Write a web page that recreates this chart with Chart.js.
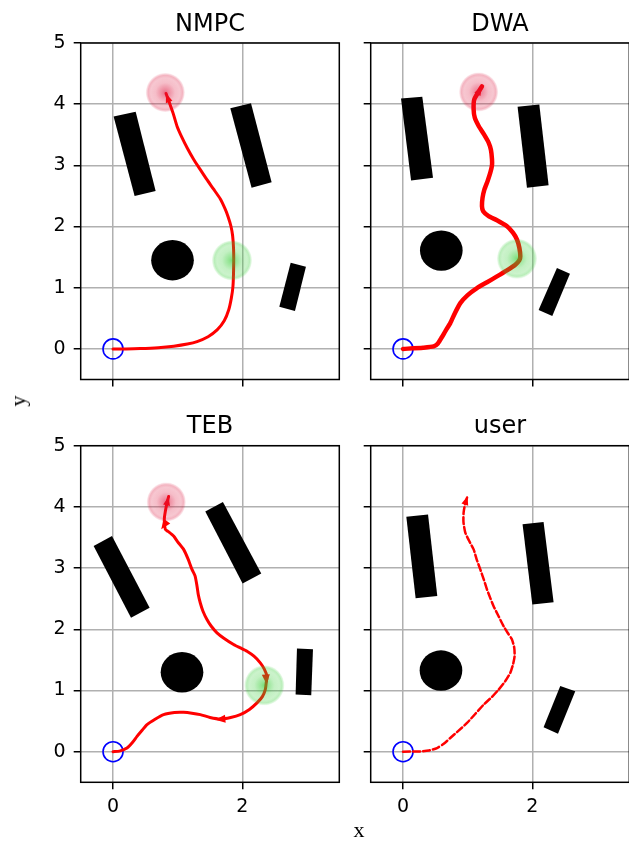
<!DOCTYPE html>
<html>
<head>
<meta charset="utf-8">
<script src="https://cdn.jsdelivr.net/npm/chart.js@4.4.1/dist/chart.umd.min.js"></script>
<style>
  html, body { margin: 0; padding: 0; background: #fff; width: 629px; height: 841px; overflow: hidden; }
  canvas { position: absolute; left: 0; top: 0; }
  .axlbl { position: absolute; font-family: 'Liberation Serif', 'DejaVu Serif', serif; font-size: 22px; line-height: 1; color: #000; }
</style>
</head>
<body>
<canvas id="pNMPC" width="660" height="841"></canvas>
<canvas id="pDWA" width="660" height="841"></canvas>
<canvas id="pTEB" width="660" height="841"></canvas>
<canvas id="pUser" width="660" height="841"></canvas>
<div class="axlbl" id="xlab" style="left:359px;top:829.5px;transform:translate(-50%,-50%);">x</div>
<div class="axlbl" id="ylab" style="left:18px;top:401px;transform:translate(-50%,-50%) rotate(-90deg);">y</div>
<script>
// ---- axes ----
const xRange = [-0.5, 3.5];
const yRange = [-0.5, 5];
const xTicks = [0, 2];
const yTicks = [0, 1, 2, 3, 4, 5];
const titles = ['NMPC', 'DWA', 'TEB', 'user'];

// ---- start pose ----
const startPoint = [0, 0];

// ---- NMPC run ----
const nmpcPathX = [0, 0.2, 0.42, 0.7, 0.94, 1.15, 1.30, 1.47, 1.61, 1.72, 1.79, 1.83, 1.855, 1.865, 1.865, 1.85, 1.824, 1.78, 1.737, 1.66, 1.556, 1.45, 1.35, 1.246, 1.15, 1.06, 0.99, 0.93, 0.87, 0.82];
const nmpcPathY = [0, 0.0, 0.005, 0.02, 0.045, 0.08, 0.12, 0.2, 0.31, 0.46, 0.64, 0.83, 1.02, 1.3, 1.62, 1.85, 2.005, 2.16, 2.28, 2.45, 2.61, 2.77, 2.93, 3.10, 3.28, 3.47, 3.64, 3.85, 4.03, 4.175];
const nmpcGoal = [0.809, 4.19];
const nmpcWaypoint = [1.84, 1.447];
const nmpcDisc = [0.92, 1.45];
const nmpcBlockA = [[0.009, 3.80], [0.350, 3.875], [0.659, 2.58], [0.334, 2.50]];
const nmpcBlockB = [[1.814, 3.934], [2.134, 4.016], [2.453, 2.726], [2.143, 2.636]];
const nmpcBlockC = [[2.748, 1.410], [2.984, 1.344], [2.814, 0.618], [2.572, 0.689]];

// ---- DWA run ----
const dwaPathX = [0, 0.31, 0.474, 0.54, 0.6, 0.66, 0.731, 0.80, 0.886, 1.0, 1.144, 1.30, 1.453, 1.60, 1.737, 1.80, 1.814, 1.80, 1.763, 1.70, 1.608, 1.453, 1.324, 1.24, 1.221, 1.23, 1.257, 1.31, 1.35, 1.376, 1.376, 1.36, 1.324, 1.25, 1.17, 1.11, 1.092, 1.103, 1.221];
const dwaPathY = [0, 0.02, 0.04, 0.09, 0.19, 0.30, 0.421, 0.58, 0.749, 0.88, 0.995, 1.09, 1.185, 1.28, 1.377, 1.45, 1.513, 1.65, 1.787, 1.90, 2.005, 2.104, 2.169, 2.25, 2.333, 2.47, 2.6, 2.75, 2.88, 3.0, 3.10, 3.25, 3.372, 3.51, 3.644, 3.78, 3.918, 4.08, 4.29];
const dwaGoal = [1.169, 4.20];
const dwaWaypoint = [1.763, 1.475];
const dwaDisc = [0.592, 1.607];
const dwaBlockA = [[-0.031, 4.093], [0.298, 4.120], [0.464, 2.798], [0.124, 2.754]];
const dwaBlockB = [[1.772, 3.956], [2.108, 3.995], [2.252, 2.677], [1.917, 2.634]];
const dwaBlockC = [[2.381, 1.323], [2.582, 1.23], [2.309, 0.536], [2.097, 0.634]];

// ---- TEB run ----
const tebPathX = [0, 0.1, 0.216, 0.30, 0.371, 0.45, 0.526, 0.65, 0.782, 0.95, 1.092, 1.22, 1.35, 1.5, 1.659, 1.82, 1.968, 2.11, 2.227, 2.31, 2.355, 2.37, 2.381, 2.34, 2.278, 2.18, 2.072, 1.96, 1.865, 1.72, 1.608, 1.52, 1.453, 1.39, 1.35, 1.32, 1.30, 1.27, 1.221, 1.16, 1.092, 1.00, 0.937, 0.85, 0.809, 0.793, 0.82, 0.86];
const tebPathY = [0, 0.01, 0.06, 0.15, 0.25, 0.35, 0.442, 0.53, 0.606, 0.64, 0.643, 0.63, 0.606, 0.56, 0.535, 0.56, 0.606, 0.69, 0.797, 0.9, 1.015, 1.13, 1.232, 1.35, 1.452, 1.56, 1.642, 1.70, 1.751, 1.85, 1.943, 2.05, 2.16, 2.30, 2.43, 2.56, 2.70, 2.87, 2.979, 3.15, 3.306, 3.43, 3.524, 3.60, 3.633, 3.797, 3.99, 4.17];
// headings (deg, screen-up positive) of the reversing poses along the TEB run
const tebReverseX = [1.66, 2.37, 0.79];
const tebReverseY = [0.53, 1.18, 3.70];
const tebReverseHeading = [185, -85, -125];
const tebGoal = [0.824, 4.08];
const tebWaypoint = [2.34, 1.085];
const tebDisc = [1.067, 1.298];
const tebBlockA = [[-0.30, 3.36], [-0.016, 3.524], [0.566, 2.352], [0.278, 2.188]];
const tebBlockB = [[1.427, 3.923], [1.70, 4.08], [2.293, 2.913], [2.004, 2.75]];
const tebBlockC = [[2.845, 1.686], [3.093, 1.674], [3.066, 0.921], [2.824, 0.933]];

// ---- user run ----
const userPathX = [0, 0.268, 0.4, 0.526, 0.63, 0.731, 0.86, 0.99, 1.12, 1.247, 1.37, 1.479, 1.58, 1.659, 1.70, 1.726, 1.72, 1.685, 1.62, 1.556, 1.48, 1.401, 1.35, 1.299, 1.25, 1.195, 1.14, 1.092, 1.02, 0.963, 0.935, 0.937, 0.96, 0.999];
const userPathY = [0, 0.005, 0.02, 0.06, 0.13, 0.224, 0.345, 0.47, 0.62, 0.769, 0.89, 1.015, 1.15, 1.288, 1.42, 1.56, 1.70, 1.833, 1.94, 2.05, 2.21, 2.378, 2.51, 2.651, 2.81, 2.979, 3.14, 3.306, 3.45, 3.58, 3.75, 3.907, 4.05, 4.178];
const userDisc = [0.587, 1.326];
const userBlockA = [[0.051, 3.841], [0.387, 3.874], [0.530, 2.543], [0.195, 2.509]];
const userBlockB = [[1.849, 3.715], [2.174, 3.753], [2.329, 2.444], [2.0, 2.406]];
const userBlockC = [[2.432, 1.075], [2.664, 0.987], [2.397, 0.295], [2.174, 0.398]];

const discRadius = 0.33;

// ---- layout of the 2x2 grid (page pixels) ----
const CW = 660, CH = 841, AXW = 40, AXH = 40;
const panels = [
  { id: 'pNMPC', title: titles[0], L: 80.7, R: 339.3, T: 43, B: 379.5, showX: false, showY: true,
    px: nmpcPathX, py: nmpcPathY, lw: 3, dash: [], goal: nmpcGoal, way: nmpcWaypoint, disc: nmpcDisc,
    blocks: [nmpcBlockA, nmpcBlockB, nmpcBlockC], rev: null },
  { id: 'pDWA', title: titles[1], L: 370.7, R: 629.3, T: 43, B: 379.5, showX: false, showY: false,
    px: dwaPathX, py: dwaPathY, lw: 4.5, dash: [], goal: dwaGoal, way: dwaWaypoint, disc: dwaDisc,
    blocks: [dwaBlockA, dwaBlockB, dwaBlockC], rev: null },
  { id: 'pTEB', title: titles[2], L: 80.7, R: 339.3, T: 445.7, B: 782.3, showX: true, showY: true,
    px: tebPathX, py: tebPathY, lw: 3, dash: [], goal: tebGoal, way: tebWaypoint, disc: tebDisc,
    blocks: [tebBlockA, tebBlockB, tebBlockC],
    rev: { x: tebReverseX, y: tebReverseY, h: tebReverseHeading } },
  { id: 'pUser', title: titles[3], L: 370.7, R: 629.3, T: 445.7, B: 782.3, showX: true, showY: false,
    px: userPathX, py: userPathY, lw: 2.5, dash: [7, 3], goal: null, way: null, disc: userDisc,
    blocks: [userBlockA, userBlockB, userBlockC], rev: null }
];

const sceneOf = {};

function glow(ctx, cx, cy, r, rgb, k) {
  const g = ctx.createRadialGradient(cx, cy, 0, cx, cy, r);
  const c = a => 'rgba(' + rgb + ',' + Math.min(1, a * k).toFixed(3) + ')';
  g.addColorStop(0, c(0.62));
  g.addColorStop(0.15, c(0.5));
  g.addColorStop(0.5, c(0.28));
  g.addColorStop(0.75, c(0.24));
  g.addColorStop(0.88, c(0.32));
  g.addColorStop(1, c(0.06));
  ctx.fillStyle = g;
  ctx.beginPath();
  ctx.arc(cx, cy, r, 0, Math.PI * 2);
  ctx.fill();
}

function arrowHead(ctx, x, y, ang, hl, hw) {
  ctx.beginPath();
  ctx.moveTo(x, y);
  ctx.lineTo(x - hl * Math.cos(ang) + hw * Math.sin(ang), y - hl * Math.sin(ang) - hw * Math.cos(ang));
  ctx.lineTo(x - hl * Math.cos(ang) - hw * Math.sin(ang), y - hl * Math.sin(ang) + hw * Math.cos(ang));
  ctx.closePath();
  ctx.fill();
}

const scenePlugin = {
  id: 'scene',
  beforeDatasetsDraw(chart) {
    const s = sceneOf[chart.canvas.id];
    const { ctx, chartArea: a } = chart;
    const xs = chart.scales.x, ys = chart.scales.y;
    ctx.save();
    ctx.beginPath(); ctx.rect(a.left, a.top, a.right - a.left, a.bottom - a.top); ctx.clip();
    ctx.fillStyle = '#000';
    s.blocks.forEach(poly => {
      ctx.beginPath();
      poly.forEach((p, i) => {
        const X = xs.getPixelForValue(p[0]), Y = ys.getPixelForValue(p[1]);
        if (i === 0) ctx.moveTo(X, Y); else ctx.lineTo(X, Y);
      });
      ctx.closePath(); ctx.fill();
    });
    const cx = xs.getPixelForValue(s.disc[0]), cy = ys.getPixelForValue(s.disc[1]);
    const rx = Math.abs(xs.getPixelForValue(s.disc[0] + discRadius) - cx);
    const ry = Math.abs(ys.getPixelForValue(s.disc[1] + discRadius) - cy);
    ctx.beginPath(); ctx.ellipse(cx, cy, rx, ry, 0, 0, Math.PI * 2); ctx.fill();
    ctx.restore();
  },
  afterDatasetsDraw(chart) {
    const s = sceneOf[chart.canvas.id];
    const { ctx, chartArea: a } = chart;
    const xs = chart.scales.x, ys = chart.scales.y;
    ctx.save();
    ctx.beginPath(); ctx.rect(a.left, a.top, a.right - a.left, a.bottom - a.top); ctx.clip();
    ctx.fillStyle = '#ff0000';
    // arrow head at the end of the trajectory
    const n = s.px.length;
    const x1 = xs.getPixelForValue(s.px[n - 1]), y1 = ys.getPixelForValue(s.py[n - 1]);
    const x0 = xs.getPixelForValue(s.px[n - 2]), y0 = ys.getPixelForValue(s.py[n - 2]);
    arrowHead(ctx, x1, y1, Math.atan2(y1 - y0, x1 - x0), 9, 3.5);
    // reversing poses
    if (s.rev) {
      s.rev.x.forEach((vx, i) => {
        const ang = -s.rev.h[i] * Math.PI / 180;
        const X = xs.getPixelForValue(vx), Y = ys.getPixelForValue(s.rev.y[i]);
        arrowHead(ctx, X + 5 * Math.cos(ang), Y + 5 * Math.sin(ang), ang, 10, 4);
      });
    }
    // goal and waypoint halos
    if (s.goal) glow(ctx, xs.getPixelForValue(s.goal[0]), ys.getPixelForValue(s.goal[1]), 19.5, '220,20,60', 1);
    if (s.way) glow(ctx, xs.getPixelForValue(s.way[0]), ys.getPixelForValue(s.way[1]), 20, '50,205,50', 1.05);
    ctx.restore();
  },
  afterDraw(chart) {
    const s = sceneOf[chart.canvas.id];
    const { ctx, chartArea: a } = chart;
    ctx.save();
    ctx.strokeStyle = '#000';
    ctx.lineWidth = 1.5;
    ctx.strokeRect(a.left, a.top, a.right - a.left, a.bottom - a.top);
    ctx.fillStyle = '#000';
    ctx.font = '24px "DejaVu Sans"';
    ctx.textAlign = 'center';
    ctx.textBaseline = 'alphabetic';
    ctx.fillText(s.title, (a.left + a.right) / 2, a.top - 12.5);
    ctx.restore();
  }
};

Chart.defaults.font.family = '"DejaVu Sans", sans-serif';
Chart.defaults.color = '#000';

panels.forEach(p => {
  sceneOf[p.id] = p;
  const path = p.px.map((x, i) => ({ x: x, y: p.py[i] }));
  const gridOpts = { color: '#b0b0b0', lineWidth: 1.5, tickColor: '#000', tickWidth: 1.5, tickLength: 7, drawTicks: true };
  new Chart(document.getElementById(p.id), {
    type: 'scatter',
    data: {
      datasets: [
        { data: path, showLine: true, borderColor: '#ff0000', borderWidth: p.lw, borderDash: p.dash,
          pointRadius: 0, pointHoverRadius: 0, tension: 0.2, borderCapStyle: 'round', borderJoinStyle: 'round' },
        { data: [{ x: startPoint[0], y: startPoint[1] }], showLine: false, pointRadius: 10, pointHoverRadius: 10,
          pointStyle: 'circle', pointBorderColor: '#0000ff', pointBackgroundColor: 'rgba(0,0,0,0)', pointBorderWidth: 1.6 }
      ]
    },
    options: {
      responsive: false, animation: false, devicePixelRatio: 1, events: [],
      layout: { padding: { left: p.L - AXW, right: CW - p.R, top: p.T, bottom: CH - p.B - AXH } },
      plugins: { legend: { display: false }, tooltip: { enabled: false } },
      scales: {
        x: {
          type: 'linear', min: xRange[0], max: xRange[1],
          afterBuildTicks: sc => { sc.ticks = xTicks.map(v => ({ value: v })); },
          afterFit: sc => { sc.height = AXH; },
          ticks: { display: p.showX, font: { size: 19 }, color: '#000', padding: 6, maxRotation: 0, autoSkip: false },
          grid: gridOpts, border: { display: false }
        },
        y: {
          type: 'linear', min: yRange[0], max: yRange[1],
          afterBuildTicks: sc => { sc.ticks = yTicks.map(v => ({ value: v })); },
          afterFit: sc => { sc.width = AXW; },
          ticks: { display: p.showY, font: { size: 19 }, color: '#000', padding: 8, autoSkip: false },
          grid: gridOpts, border: { display: false }
        }
      }
    },
    plugins: [scenePlugin]
  });
});
</script>
</body>
</html>
